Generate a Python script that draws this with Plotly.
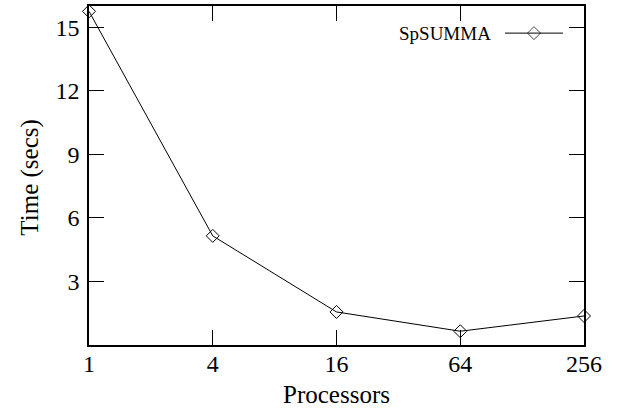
import plotly.graph_objects as go
import math

processors = [1, 4, 16, 64, 256]
times = [15.75, 5.15, 1.56, 0.65, 1.37]
series_name = "SpSUMMA"
y_ticks = [3, 6, 9, 12, 15]

FONT = '"Liberation Serif", "Times New Roman", Times, serif'

fig = go.Figure()
fig.add_trace(go.Scatter(
    x=processors, y=times, mode="lines+markers", name=series_name,
    line=dict(color="black", width=1),
    marker=dict(symbol="diamond-open", size=10, color="black", line=dict(width=1, color="black")),
    cliponaxis=False, showlegend=False,
))

# manual gnuplot-style legend (text left of sample)
fig.add_trace(go.Scatter(
    x=[0, 0.5, 1], y=[0.5, 0.5, 0.5], mode="lines+markers",
    xaxis="x2", yaxis="y2", showlegend=False, hoverinfo="skip",
    line=dict(color="black", width=1),
    marker=dict(symbol=["circle", "diamond-open", "circle"], size=[0, 10, 0], color="black",
                line=dict(width=1, color="black")),
    cliponaxis=False,
))
fig.add_annotation(text=series_name, xref="paper", yref="paper", x=0.816, y=0.92,
                   xanchor="right", yanchor="middle", showarrow=False,
                   font=dict(family=FONT, size=19, color="black"))
fig.add_annotation(text="Time (secs)", xref="paper", yref="paper", x=-0.121, y=0.494,
                   xanchor="center", yanchor="middle", textangle=-90, showarrow=False,
                   font=dict(family=FONT, size=25, color="black"))
fig.add_annotation(text="Processors", xref="paper", yref="paper", x=0.5, y=-0.147,
                   xanchor="center", yanchor="middle", showarrow=False,
                   font=dict(family=FONT, size=25, color="black"))

axis_common = dict(showline=True, linecolor="black", linewidth=1.5, mirror="allticks",
                   ticks="inside", ticklen=15, tickwidth=1, tickcolor="black",
                   showgrid=False, zeroline=False, automargin=False,
                   tickfont=dict(family=FONT, size=24, color="black"))

fig.update_layout(
    width=617, height=409,
    margin=dict(l=89, r=33, t=6, b=64),
    paper_bgcolor="white", plot_bgcolor="white",
    xaxis=dict(type="log", range=[0, math.log10(256)], tickvals=processors,
               ticktext=[str(p) for p in processors], ticklabelstandoff=-4, **axis_common),
    yaxis=dict(range=[0, 16], tickvals=y_ticks, ticklabelstandoff=3, **axis_common),
    xaxis2=dict(domain=[0.840, 0.958], range=[0, 1], visible=False, anchor="y2"),
    yaxis2=dict(domain=[0.87, 0.97], range=[0, 1], visible=False, anchor="x2"),
    font=dict(family=FONT, color="black"),
)

fig.write_html("out.html", config={"displayModeBar": False},
               post_script="document.body.style.margin='0px';")
